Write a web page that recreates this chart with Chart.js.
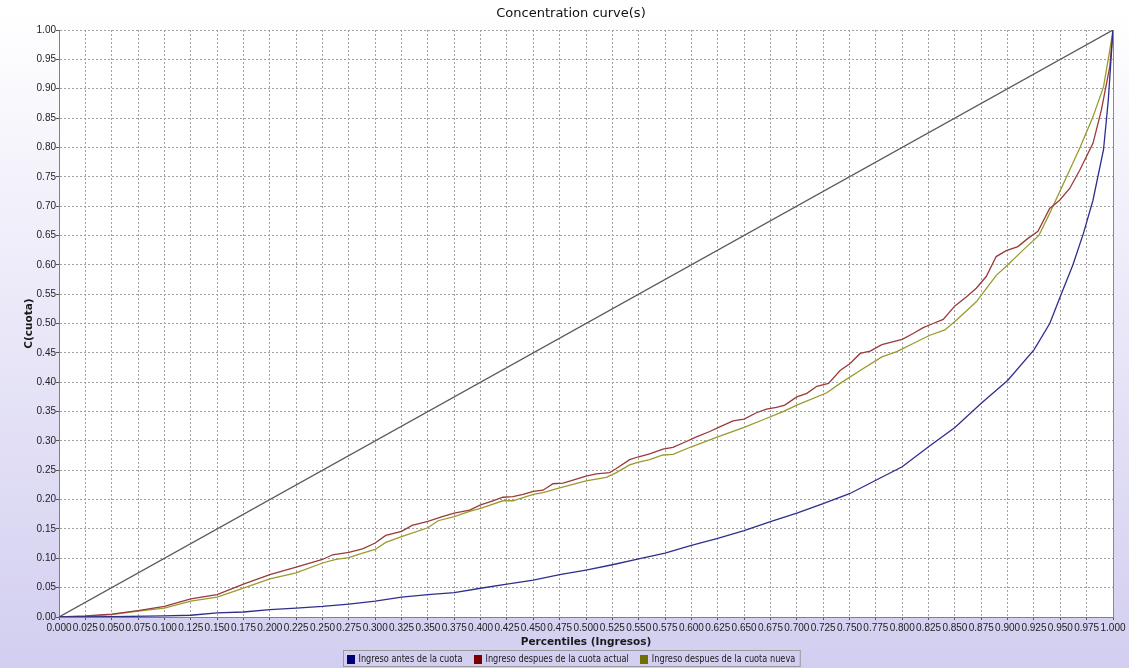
<!DOCTYPE html>
<html>
<head>
<meta charset="utf-8">
<script src="https://cdn.jsdelivr.net/npm/chart.js@4"></script>
<style>
html,body{margin:0;padding:0;background:#fff;}
#wrap{width:1129px;height:668px;}
</style>
</head>
<body>
<div id="wrap"><canvas id="c" width="1129" height="668"></canvas></div>
<script>
// ---------- DATA ----------
const chartTitle = "Concentration curve(s)";
const xTitle = "Percentiles (Ingresos)";
const yTitle = "C(cuota)";
const seriesNames = ["Ingreso antes de la cuota", "Ingreso despues de la cuota actual", "Ingreso despues de la cuota nueva"];

const pctBlue = [0, 0.05, 0.1, 0.125, 0.15, 0.175, 0.2, 0.225, 0.25, 0.275, 0.3, 0.325, 0.35, 0.375, 0.4, 0.425, 0.45, 0.475, 0.5, 0.525, 0.55, 0.575, 0.6, 0.625, 0.65, 0.675, 0.7, 0.725, 0.75, 0.775, 0.8, 0.825, 0.85, 0.875, 0.9, 0.925, 0.94, 0.95, 0.962, 0.972, 0.981, 0.991, 0.9955, 1.0];
const valBlue = [0, 0.0005, 0.002, 0.003, 0.007, 0.0085, 0.0125, 0.015, 0.018, 0.022, 0.027, 0.034, 0.038, 0.0415, 0.049, 0.056, 0.063, 0.072, 0.08, 0.089, 0.099, 0.109, 0.122, 0.134, 0.147, 0.1625, 0.177, 0.193, 0.21, 0.233, 0.256, 0.29, 0.323, 0.364, 0.403, 0.455, 0.50, 0.546, 0.60, 0.654, 0.71, 0.796, 0.88, 1.0];

const pctRed = [0, 0.025, 0.05, 0.075, 0.1, 0.125, 0.15, 0.175, 0.2, 0.225, 0.25, 0.2595, 0.275, 0.288, 0.3, 0.31, 0.325, 0.335, 0.35, 0.3636, 0.375, 0.3896, 0.4, 0.4117, 0.4212, 0.4307, 0.4402, 0.45, 0.4592, 0.4687, 0.4782, 0.4877, 0.5, 0.5098, 0.5225, 0.5288, 0.5414, 0.55, 0.5604, 0.573, 0.5825, 0.5952, 0.6047, 0.6174, 0.6269, 0.6395, 0.65, 0.6617, 0.6712, 0.6807, 0.6886, 0.70, 0.7095, 0.719, 0.7301, 0.7411, 0.7506, 0.7601, 0.7696, 0.7807, 0.80, 0.8104, 0.8199, 0.8294, 0.8389, 0.85, 0.8608, 0.8703, 0.8797, 0.8892, 0.8987, 0.9098, 0.9193, 0.9288, 0.9399, 0.9494, 0.9589, 0.9684, 0.981, 0.989, 0.997, 1.0];
const valRed = [0, 0.002, 0.005, 0.011, 0.018, 0.031, 0.038, 0.056, 0.072, 0.085, 0.098, 0.106, 0.110, 0.116, 0.126, 0.139, 0.146, 0.156, 0.163, 0.171, 0.177, 0.182, 0.191, 0.198, 0.204, 0.205, 0.209, 0.214, 0.216, 0.227, 0.228, 0.233, 0.240, 0.244, 0.246, 0.253, 0.268, 0.273, 0.278, 0.286, 0.289, 0.299, 0.307, 0.316, 0.324, 0.334, 0.337, 0.348, 0.354, 0.357, 0.361, 0.375, 0.381, 0.393, 0.398, 0.420, 0.432, 0.449, 0.453, 0.464, 0.473, 0.483, 0.493, 0.500, 0.507, 0.530, 0.545, 0.560, 0.580, 0.614, 0.624, 0.631, 0.645, 0.657, 0.696, 0.710, 0.730, 0.761, 0.807, 0.864, 0.938, 1.0];

const pctOlive = [0, 0.025, 0.05, 0.075, 0.1, 0.125, 0.15, 0.175, 0.2, 0.225, 0.25, 0.2627, 0.275, 0.288, 0.3, 0.31, 0.325, 0.35, 0.3597, 0.375, 0.3896, 0.4, 0.4212, 0.4307, 0.45, 0.4592, 0.475, 0.4877, 0.5, 0.5193, 0.5288, 0.5414, 0.55, 0.5604, 0.573, 0.5825, 0.6, 0.625, 0.65, 0.668, 0.687, 0.70, 0.7285, 0.7411, 0.7601, 0.7807, 0.7949, 0.8104, 0.8262, 0.8405, 0.8516, 0.8703, 0.8892, 0.9003, 0.9146, 0.9297, 0.940, 0.956, 0.969, 0.981, 0.991, 0.997, 1.0];
const valOlive = [0, 0.001, 0.004, 0.010, 0.015, 0.027, 0.034, 0.049, 0.065, 0.075, 0.092, 0.098, 0.101, 0.109, 0.115, 0.127, 0.137, 0.152, 0.164, 0.171, 0.180, 0.185, 0.198, 0.198, 0.209, 0.212, 0.220, 0.226, 0.232, 0.238, 0.246, 0.259, 0.264, 0.268, 0.276, 0.277, 0.290, 0.307, 0.323, 0.336, 0.350, 0.361, 0.382, 0.398, 0.420, 0.443, 0.452, 0.466, 0.480, 0.489, 0.506, 0.537, 0.582, 0.600, 0.625, 0.650, 0.688, 0.750, 0.801, 0.852, 0.903, 0.966, 1.0];

const pctDiag = [0, 1];
const valDiag = [0, 1];

// ---------- STYLE ----------
const lineColors = ["#2e2e8c", "#9a3a3a", "#9a9a2e"];
const legendColors = ["#000078", "#7a0000", "#707000"];
const diagColor = "#5a5a5a";

function pts(xs, ys) { return xs.map((x, i) => ({x: x, y: ys[i]})); }

const bgPlugin = {
  id: 'bg',
  beforeDraw(chart) {
    const ctx = chart.ctx, ca = chart.chartArea;
    ctx.save();
    const g = ctx.createLinearGradient(0, 10, 0, chart.height);
    g.addColorStop(0, '#ffffff');
    g.addColorStop(1, '#d2cef0');
    ctx.fillStyle = g;
    ctx.fillRect(0, 0, chart.width, chart.height);
    ctx.fillStyle = '#ffffff';
    ctx.fillRect(ca.left, ca.top, ca.right - ca.left, ca.bottom - ca.top);
    ctx.restore();
  },
  afterDraw(chart) {
    const ctx = chart.ctx, ca = chart.chartArea;
    ctx.save();
    // right edge of plot
    ctx.strokeStyle = '#8a8a8a';
    ctx.lineWidth = 1;
    ctx.beginPath();
    ctx.moveTo(Math.round(ca.right) + 0.5, ca.top);
    ctx.lineTo(Math.round(ca.right) + 0.5, ca.bottom);
    ctx.stroke();

    // title
    const center = 571;
    ctx.fillStyle = '#111';
    ctx.font = '13px "DejaVu Sans", sans-serif';
    ctx.textAlign = 'center';
    ctx.textBaseline = 'middle';
    ctx.fillText(chartTitle, center, 14);

    // legend
    ctx.font = '10.5px "DejaVu Sans Condensed", "DejaVu Sans", sans-serif';
    const sx = 104 / ctx.measureText(seriesNames[0]).width;
    const box = 8, gap = 4, itemGap = 11, padL = 3, padR = 5;
    const widths = seriesNames.map(n => ctx.measureText(n).width * sx);
    let total = padL + padR;
    widths.forEach((w, i) => { total += box + gap + w + (i < widths.length - 1 ? itemGap : 0); });
    const left = Math.round(center - total / 2) + 0.5;
    const top = 650.5, h = 16;
    ctx.strokeStyle = '#9a9a9a';
    ctx.strokeRect(left, top, total, h);
    let x = left + padL;
    const cy = top + h / 2 + 0.5;
    ctx.textAlign = 'left';
    seriesNames.forEach((n, i) => {
      ctx.fillStyle = legendColors[i];
      ctx.fillRect(Math.round(x), Math.round(cy - 4.5), box, 9);
      x += box + gap;
      ctx.save();
      ctx.translate(x, cy);
      ctx.scale(sx, 1);
      ctx.fillStyle = '#1a1a1a';
      ctx.fillText(n, 0, 0);
      ctx.restore();
      x += widths[i] + itemGap;
    });
    ctx.restore();
  }
};

const tickFont = {family: '"Liberation Sans", Arial, sans-serif', size: 10};
const titleFont = {family: '"DejaVu Sans", sans-serif', size: 10.5, weight: 'bold'};

new Chart(document.getElementById('c'), {
  type: 'scatter',
  data: {
    datasets: [
      {label: seriesNames[0], data: pts(pctBlue, valBlue), borderColor: lineColors[0], backgroundColor: lineColors[0], showLine: true, pointRadius: 0, borderWidth: 1.3, tension: 0},
      {label: seriesNames[1], data: pts(pctRed, valRed), borderColor: lineColors[1], backgroundColor: lineColors[1], showLine: true, pointRadius: 0, borderWidth: 1.3, tension: 0},
      {label: seriesNames[2], data: pts(pctOlive, valOlive), borderColor: lineColors[2], backgroundColor: lineColors[2], showLine: true, pointRadius: 0, borderWidth: 1.3, tension: 0},
      {label: 'diag', data: pts(pctDiag, valDiag), borderColor: diagColor, backgroundColor: diagColor, showLine: true, pointRadius: 0, borderWidth: 1.3}
    ]
  },
  options: {
    responsive: false,
    animation: false,
    events: [],
    layout: {padding: {left: 0, right: 16, top: 30, bottom: 19}},
    plugins: {
      legend: {display: false},
      title: {display: false},
      tooltip: {enabled: false}
    },
    scales: {
      x: {
        type: 'linear', min: 0, max: 1,
        afterFit(s) { s.height = 32; },
        ticks: {stepSize: 0.025, maxTicksLimit: 100, autoSkip: false, maxRotation: 0, minRotation: 0, padding: 2, color: '#222', font: tickFont,
          callback: v => Number(v).toFixed(3)},
        grid: {color: '#a0a0a0', lineWidth: 1, tickLength: 3, tickColor: '#555', tickWidth: 1, drawTicks: true},
        border: {display: true, color: '#808080', width: 1, dash: [2, 2]},
        title: {display: true, text: xTitle, color: '#1a1a1a', font: titleFont, padding: {top: 0, bottom: 0}}
      },
      y: {
        type: 'linear', min: 0, max: 1,
        afterFit(s) { s.width = 59; },
        ticks: {stepSize: 0.05, maxTicksLimit: 100, autoSkip: false, padding: 0, color: '#222', font: tickFont,
          callback: v => Number(v).toFixed(2)},
        grid: {color: '#a0a0a0', lineWidth: 1, tickLength: 3, tickColor: '#555', tickWidth: 1, drawTicks: true},
        border: {display: true, color: '#808080', width: 1, dash: [2, 2]},
        title: {display: true, text: yTitle, color: '#1a1a1a', font: titleFont, padding: {top: 22.7, bottom: 0}}
      }
    }
  },
  plugins: [bgPlugin]
});
</script>
</body>
</html>
